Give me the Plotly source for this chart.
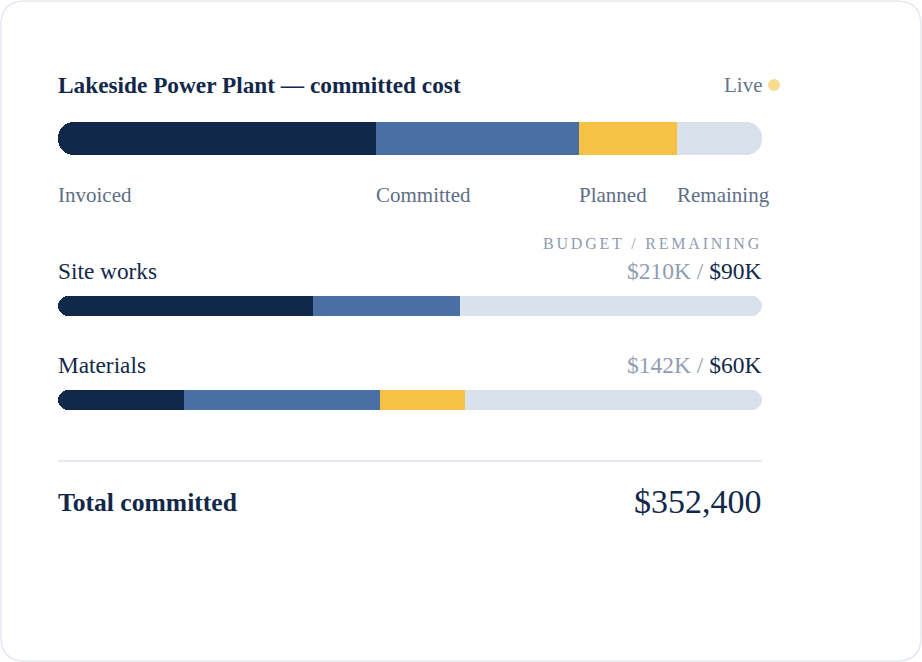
import plotly.graph_objects as go

W, H = 922, 662

NAVY = "#12284a"
BLUE = "#4a6fa5"
YELLOW = "#f5c244"
LIGHT = "#d9e1ec"
MUTED = "#5e6e86"
FAINT = "#919db2"

# segment names and colours, in stacking order
segments = ["Invoiced", "Committed", "Planned", "Remaining"]
seg_colors = [NAVY, BLUE, YELLOW, LIGHT]

# project split ($K)
project_values = [159.2, 101.6, 49.0, 42.6]

# cost lines ($K)
rows = ["Site works", "Materials"]
row_budget = [210, 142]
row_remaining = [90, 60]
site_values = [76, 44, 0, 90]
materials_values = [25.5, 39.5, 17, 60]

total_committed = 352400


def px(x):
    return x / W


def py(y):
    return 1 - y / H


fig = go.Figure()


def add_bar_row(values, n, top, bottom):
    """one pill-shaped split bar on its own axis pair.
    relative mode: the first segment goes left of zero, the rest stack right,
    so plotly rounds only the two outer ends"""
    sfx = "" if n == 1 else str(n)
    origin = values[0]
    total = sum(values)
    starts = [sum(values[:i]) - origin for i in range(len(values))]
    for i, v in enumerate(values):
        if v <= 0:
            continue
        fig.add_trace(go.Bar(
            x=[-v if i == 0 else v], y=["row"], orientation="h", width=[1],
            marker=dict(color=seg_colors[i], line_width=0),
            name=segments[i], hoverinfo="skip", showlegend=False,
            xaxis="x" + sfx, yaxis="y" + sfx,
        ))
    fig.layout["xaxis" + sfx] = dict(
        domain=[px(58), px(762)], range=[-origin, total - origin], visible=False,
        fixedrange=True, anchor="y" + sfx,
    )
    fig.layout["yaxis" + sfx] = dict(
        domain=[py(bottom), py(top)], range=[-0.5, 0.5], visible=False,
        fixedrange=True, anchor="x" + sfx,
    )
    return starts


proj_starts = add_bar_row(project_values, 1, 122, 155)
add_bar_row(site_values, 2, 296, 316)
add_bar_row(materials_values, 3, 390, 410)

ann = []
ann.append(dict(text="<b>Lakeside Power Plant — committed cost</b>", x=px(58), y=py(85),
                xanchor="left", font=dict(size=23.3, color=NAVY)))
ann.append(dict(text="Live", x=px(762), y=py(85), xanchor="right",
                font=dict(size=21, color="#64748b")))

# segment labels sit at each segment's start on the project axis
for name, s in zip(segments, proj_starts):
    ann.append(dict(text=name, xref="x", x=s, y=py(195), xanchor="left",
                    font=dict(size=21, color=MUTED)))

ann.append(dict(text="<span style='letter-spacing:2.8px'>BUDGET / REMAINING</span>",
                x=px(762), y=py(243), xanchor="right",
                font=dict(size=16, color="#8e9bb1")))

for name, bud, rem, yl in zip(rows, row_budget, row_remaining, [271, 365]):
    ann.append(dict(text=name, x=px(58), y=py(yl), xanchor="left",
                    font=dict(size=23.3, color=NAVY)))
    ann.append(dict(text=f"<span style='color:{FAINT}'>${bud}K / </span>${rem}K",
                    x=px(762), y=py(yl), xanchor="right",
                    font=dict(size=23.5, color=NAVY)))

ann.append(dict(text="<b>Total committed</b>", x=px(58), y=py(503), xanchor="left",
                font=dict(size=25.6, color=NAVY)))
ann.append(dict(text=f"${total_committed:,}", x=px(762), y=py(501), xanchor="right",
                font=dict(size=34, color=NAVY)))

for a in ann:
    a.setdefault("xref", "paper")
    a.update(yref="paper", yanchor="middle", showarrow=False,
             xshift=-2 if a["xanchor"] == "left" else 2)

# card outline with rounded corners
r = 24
x0, x1, y0, y1 = 1, 921, 1, 661
card = (f"M {px(x0 + r)} {py(y0)} L {px(x1 - r)} {py(y0)} Q {px(x1)} {py(y0)} {px(x1)} {py(y0 + r)} "
        f"L {px(x1)} {py(y1 - r)} Q {px(x1)} {py(y1)} {px(x1 - r)} {py(y1)} "
        f"L {px(x0 + r)} {py(y1)} Q {px(x0)} {py(y1)} {px(x0)} {py(y1 - r)} "
        f"L {px(x0)} {py(y0 + r)} Q {px(x0)} {py(y0)} {px(x0 + r)} {py(y0)} Z")

shapes = [
    dict(type="path", path=card, xref="paper", yref="paper",
         line=dict(color="#e3e7ee", width=1.5), fillcolor="rgba(0,0,0,0)", layer="below"),
    dict(type="line", xref="paper", yref="paper", x0=px(58), x1=px(762), y0=py(461), y1=py(461),
         line=dict(color="#e4e8ef", width=2)),
    dict(type="circle", xref="paper", yref="paper", xsizemode="pixel", ysizemode="pixel",
         xanchor=px(774), yanchor=py(85), x0=-6, x1=6, y0=-6, y1=6,
         fillcolor="#f8dc90", line_width=0),
]

fig.update_layout(
    width=W, height=H, margin=dict(l=0, r=0, t=0, b=0),
    paper_bgcolor="white", plot_bgcolor="rgba(0,0,0,0)",
    barmode="relative", bargap=0, barcornerradius="50%",
    font=dict(family="Liberation Serif", color=NAVY),
    annotations=ann, shapes=shapes, showlegend=False,
)

fig.write_html("out.html", config={"displayModeBar": False},
               post_script="document.body.style.margin='0';")
